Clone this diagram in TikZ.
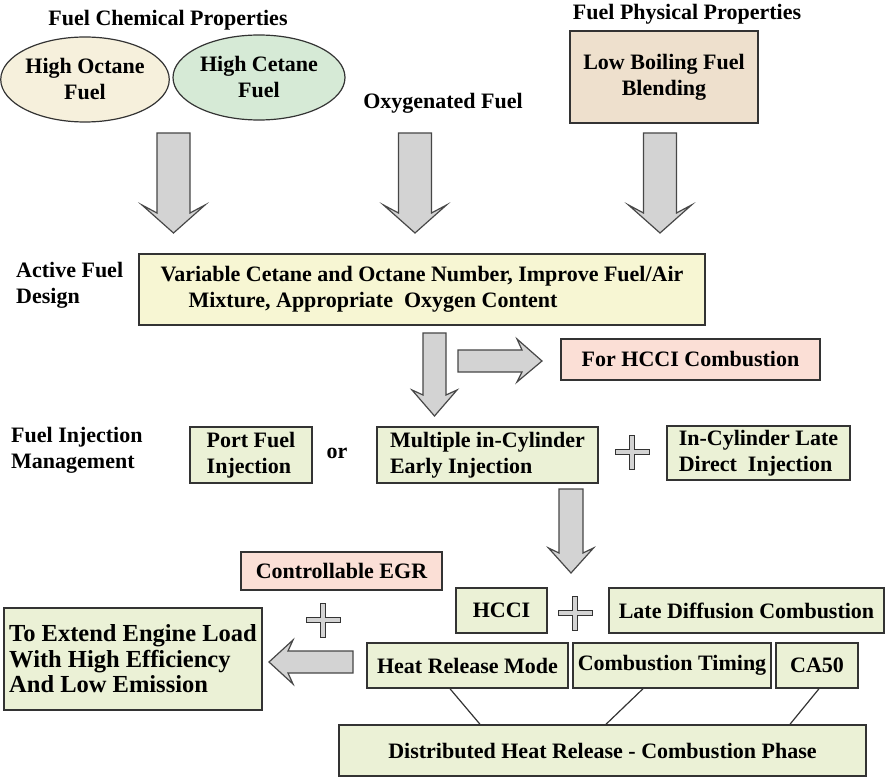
\documentclass[tikz,border=0pt]{standalone}
\usepackage{fontspec}
\setmainfont{Liberation Serif}
\usetikzlibrary{shapes.geometric,calc}
\definecolor{cream}{HTML}{F6F0DC}
\definecolor{mint}{HTML}{D6EAD6}
\definecolor{tan}{HTML}{EEE0CD}
\definecolor{paleyellow}{HTML}{F7F6D3}
\definecolor{pink}{HTML}{FBDFD6}
\definecolor{palegreen}{HTML}{EBF1D6}
\definecolor{arrowgray}{HTML}{D3D3D3}
\definecolor{edge}{HTML}{333333}
\tikzset{
  txt/.style={font=\bfseries\fontsize{22}{26}\selectfont, inner sep=0pt},
  box/.style={txt, draw=edge, line width=1.5pt, align=center},
  oval/.style={txt, draw=edge, line width=1.2pt, ellipse, align=center},
  blockarrow/.style={fill=arrowgray, draw=edge!90, line width=1.2pt, line join=miter},
  plussign/.style={fill=arrowgray, draw=edge, line width=1pt}
}
\newcommand{\mybox}[6]{% name, x1, y1, x2, y2, style+text
  \node[box,#6, minimum width={#4-#2}, minimum height={#5-#3}] (#1) at ({(#2+#4)/2},{(#3+#5)/2})}
\newcommand{\downarr}[7]{% cx, hw, top, sb, W, wy, tip
  \draw[blockarrow] ({#1-#2},#3) -- ({#1+#2},#3) -- ({#1+#2},#4) -- ({#1+#5},#6) -- (#1,#7) -- ({#1-#5},#6) -- ({#1-#2},#4) -- cycle;}
\newcommand{\plusat}[2]{%
  \draw[plussign] ({#1-2.5},{#2-17}) -- ({#1+2.5},{#2-17}) -- ({#1+2.5},{#2-2.5}) -- ({#1+17},{#2-2.5}) -- ({#1+17},{#2+2.5}) -- ({#1+2.5},{#2+2.5}) -- ({#1+2.5},{#2+17}) -- ({#1-2.5},{#2+17}) -- ({#1-2.5},{#2+2.5}) -- ({#1-17},{#2+2.5}) -- ({#1-17},{#2-2.5}) -- ({#1-2.5},{#2-2.5}) -- cycle;}
\begin{document}
\begin{tikzpicture}[x=1pt,y=-1pt]
\useasboundingbox (0,0) rectangle (887,778);
% top titles
\node[txt] (chem) at (168,20) {Fuel Chemical Properties};
\node[txt] (phys) at (687,14) {Fuel Physical Properties};
\node[txt] (oxy) at (443,103) {Oxygenated Fuel};
% ellipses
\node[oval, fill=cream, minimum width=166, minimum height=85] (octane) at (85,79.5) {High Octane\\Fuel};
\node[oval, fill=mint, minimum width=172, minimum height=85] (cetane) at (259,77.5) {High Cetane\\Fuel};
\mybox{boil}{570}{31}{758}{123}{fill=tan}{Low Boiling Fuel\\Blending};
% arrows from top
\downarr{173.5}{16.5}{133}{213}{31.5}{205}{233}
\downarr{415}{16.5}{133}{213}{31.5}{205}{233}
\downarr{660}{16.5}{133}{213}{31.5}{205}{233}
% active fuel design
\node[txt, anchor=west, align=left] (afd) at (16,285) {Active Fuel\\Design};
\mybox{main}{139}{254}{705}{325}{fill=paleyellow, align=left}{Variable Cetane and Octane Number, Improve Fuel/Air\\\hspace*{28pt}Mixture, Appropriate\ \ Oxygen Content};
\downarr{434.5}{11.5}{333}{395}{22.5}{390}{416}
\draw[blockarrow] (458,350) -- (522,350) -- (517,339) -- (542,361) -- (517,382) -- (522,372) -- (458,372) -- cycle;
\mybox{hcci1}{561}{339}{820}{380}{fill=pink}{For HCCI Combustion};
% injection
\node[txt, anchor=west, align=left] (fim) at (11,450) {Fuel Injection\\Management};
\mybox{port}{190}{427}{312}{483}{fill=palegreen, align=left}{Port Fuel\\Injection};
\node[txt] (or) at (337,453) {or};
\mybox{multi}{377}{427}{598}{483}{fill=palegreen, align=left}{Multiple in-Cylinder\\Early Injection};
\plusat{632}{452}
\mybox{late}{667}{426}{850}{480}{fill=palegreen, align=left}{In-Cylinder Late\\Direct\ \ Injection};
\downarr{571}{12}{489}{553}{22.5}{548}{573}
% bottom
\mybox{egr}{241}{552}{442}{590}{fill=pink}{Controllable EGR};
\mybox{hcci}{456}{588}{547}{633}{fill=palegreen}{HCCI};
\plusat{575}{613}
\mybox{ldc}{609}{588}{884}{633}{fill=palegreen}{Late Diffusion Combustion};
\plusat{323}{620}
\mybox{ext}{4}{608}{262}{710}{fill=palegreen, align=left, font=\bfseries\fontsize{24.5}{25.5}\selectfont}{To Extend Engine Load\\With High Efficiency\\And Low Emission};
\draw[blockarrow] (353,651) -- (288,651) -- (293,640) -- (269,662) -- (293,684) -- (288,673) -- (353,673) -- cycle;
\mybox{hrm}{367}{643}{568}{688}{fill=palegreen}{Heat Release Mode};
\mybox{ct}{573}{643}{771}{688}{fill=palegreen}{Combustion Timing};
\mybox{ca}{776}{643}{858}{688}{fill=palegreen}{CA50};
\mybox{dist}{339}{725}{866}{776}{fill=palegreen}{Distributed Heat Release - Combustion Phase};
\draw[line width=1.2pt, edge] ([xshift=-17.5]hrm.south) -- ([xshift=-122.5]dist.north);
\draw[line width=1.2pt, edge] ([xshift=-29]ct.south) -- ([xshift=3.5]dist.north);
\draw[line width=1.2pt, edge] ([xshift=2]ca.south) -- ([xshift=187.5]dist.north);
\end{tikzpicture}
\end{document}
